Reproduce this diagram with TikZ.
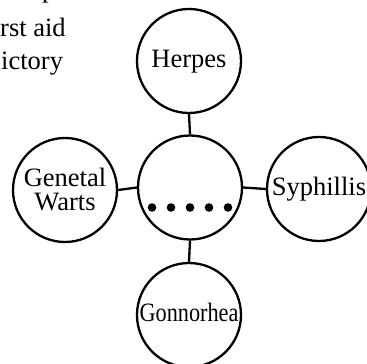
\documentclass[tikz,border=0pt]{standalone}
\usepackage{fontspec}
\usepackage{graphicx}
\usetikzlibrary{calc}
\setmainfont{Liberation Serif}
\begin{document}
\begin{tikzpicture}[x=1pt,y=-1pt,
  txt/.style={font=\fontsize{26.5}{24}\selectfont},
  bubble/.style={circle, draw, line width=2.3pt, minimum size=104pt, inner sep=0pt, txt},
  oneline/.style={bubble, text height=12pt, text depth=0pt},
  frag/.style={anchor=base west, inner sep=0pt, txt},
  link/.style={line width=2.3pt},
  bead/.style={fill=black}]
\useasboundingbox (0,0) rectangle (367,364);
% cropped paragraph fragments
\node[frag] (t1) at (42,-2) {p};
\node[frag] (t2) at (0,36) {rst aid};
\node[frag] (t3) at (1,69) {ictory};
% circles
\node[bubble] (c) at (190,187.5) {};
\node[oneline] (h) at (189,61) {Herpes};
\node[bubble, align=center] (g) at (65,190) {Genetal\\Warts};
\node[oneline] (s) at (319,189) {Syphillis};
\node[oneline] (o) at (189,315) {\scalebox{0.84}[1]{Gonnorhea}};
% connectors
\draw[link] (h.south) -- (c.north);
\draw[link] (c.south) -- (o.north);
\draw[link] (g.east) -- (c.west);
\draw[link] (c.east) -- (s.west);
% dots
\foreach \dx in {-38,-19,0,19,38}
  \fill[bead] ($(c.center)+(\dx,20)$) circle (4.3pt);
\end{tikzpicture}
\end{document}
